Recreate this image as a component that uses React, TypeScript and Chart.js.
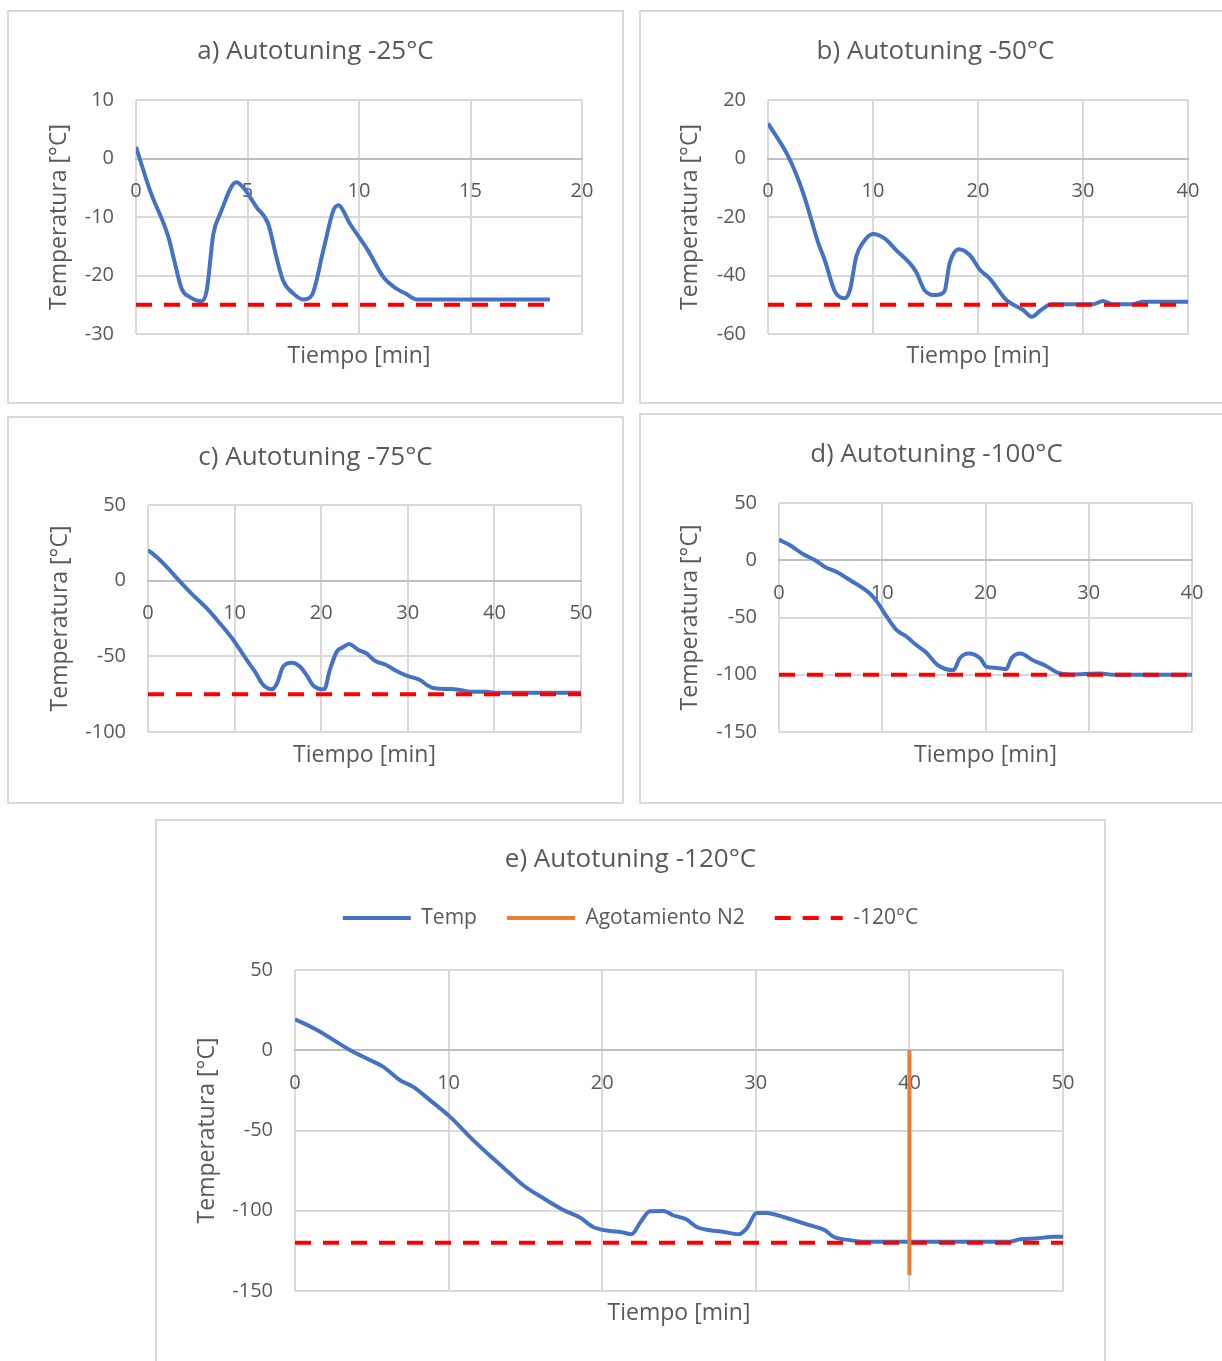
import React, { useEffect, useRef } from "react";
import { Chart, registerables } from "chart.js";

Chart.register(...registerables);

// ---------------- data ----------------
// a) Autotuning -25°C
const timeA = [0, 0.63, 1.45, 1.75, 2.05, 2.42, 2.94, 3.17, 3.47, 3.77, 4.5, 4.8, 5.4, 5.93, 6.3, 6.6, 7.06, 7.5, 7.88, 8.4, 8.85, 9.07, 9.6, 10.4, 11.1, 11.7, 12.1, 12.6, 18.56];
const tempA = [2, -5.5, -13.4, -18, -22.3, -23.7, -24.4, -22.6, -12.9, -9.5, -4.05, -4.9, -8.3, -11.2, -16.9, -20.9, -23.1, -24.1, -23.4, -15.7, -8.9, -8.0, -11.2, -15.7, -20.3, -22.3, -23.1, -24.1, -24.1];
const setTimeA = [0, 18.5];
const setTempA = [-25, -25];

// b) Autotuning -50°C
const timeB = [0, 1.94, 3.36, 4.8, 5.4, 6.38, 7.3, 7.8, 8.4, 9.0, 9.98, 11.1, 12.2, 13.5, 14.1, 14.9, 16.0, 16.8, 17.3, 18.2, 19.2, 20.2, 21.1, 22.7, 24.3, 25.1, 26.0, 27.0, 31.0, 31.9, 32.8, 34.8, 35.7, 40];
const tempB = [12, 0.6, -11.9, -29, -34.7, -45.5, -47.8, -45, -33.6, -29, -25.8, -27.3, -31.3, -35.8, -38.7, -45, -46.7, -45.5, -35.8, -31, -33, -38.1, -41, -48.4, -51.8, -54.1, -51.8, -49.8, -49.8, -48.7, -49.8, -49.8, -49, -49];
const setTimeB = [0, 40];
const setTempB = [-50, -50];

// c) Autotuning -75°C
const timeC = [0, 1.16, 2.5, 3.7, 5.2, 6.8, 8.3, 9.85, 11.4, 12.35, 13.3, 14.3, 14.9, 15.6, 16.6, 17.55, 18.3, 19.1, 20.35, 21.0, 21.8, 22.5, 23.2, 24.3, 25.2, 26.2, 27.5, 28.7, 29.85, 31.4, 32.2, 33.1, 35.0, 36.0, 37.2, 39.1, 39.9, 50];
const tempC = [20.3, 14.8, 7, -0.6, -9.5, -18.3, -28.2, -39.2, -52.4, -60.1, -68.9, -71.8, -67.8, -56.8, -54.2, -56.8, -62.3, -69.4, -71.8, -59, -46.9, -44, -41.8, -45.8, -48, -52.9, -55.7, -59.7, -62.8, -65.6, -68.9, -71.1, -71.6, -72.2, -73.4, -73.4, -74, -74];
const setTimeC = [0, 50];
const setTempC = [-75, -75];

// d) Autotuning -100°C
const timeD = [0, 1.07, 2.35, 3.5, 4.45, 5.6, 6.9, 8.8, 9.5, 10.45, 11.4, 12.4, 13.2, 14.2, 15.4, 16.9, 17.5, 18.35, 19.5, 20.1, 21.1, 22.0, 22.5, 23.35, 24.6, 25.9, 27.05, 28.2, 31.1, 32.4, 40];
const tempD = [18, 13.1, 5.2, 0, -5.8, -10.2, -17.5, -29.1, -36.4, -49.5, -61.1, -67, -73.4, -80.1, -91.7, -96, -85.8, -81.5, -85.8, -93.1, -94, -95.2, -85.8, -81.5, -87.3, -92.5, -98.4, -99.7, -98.9, -100, -100];
const setTimeD = [0, 40];
const setTempD = [-100, -100];

// e) Autotuning -120°C
const timeE = [0, 1.4, 3.6, 4.9, 5.75, 6.84, 7.7, 8.8, 10.1, 11.6, 12.9, 14.0, 14.86, 16.2, 17.5, 18.55, 19.4, 20.5, 21.2, 21.9, 22.5, 23.1, 24.0, 24.6, 25.5, 26.15, 27.0, 27.9, 28.86, 29.4, 30.06, 30.7, 31.8, 32.65, 33.5, 34.5, 35.05, 36.1, 37.2, 46.55, 47.2, 48.3, 49.4, 50];
const tempE = [19.3, 12.8, 0, -6.2, -10.4, -18.7, -22.8, -31.2, -41.5, -56, -67.5, -76.8, -84.1, -92.4, -99.7, -104.2, -110.1, -112.6, -113.2, -114.6, -107, -100.3, -100.1, -102.8, -105.5, -110.1, -112.1, -113.2, -114.6, -111.1, -101.4, -101.4, -103.9, -106.4, -109, -112.1, -116.2, -118.3, -119.3, -119.3, -117.8, -117.2, -116.2, -116.2];
const agotTimeE = [40, 40];
const agotTempE = [0, -140];
const setTimeE = [0, 50];
const setTempE = [-120, -120];

// ---------------- styles ----------------
const FONT = "'Open Sans', 'DejaVu Sans', sans-serif";
const TEXT = "#595959";
const GRID = "#d9d9d9";
const AXIS = "#bfbfbf";
const BLUE = "#4472C4";
const RED = "#FF0000";
const ORANGE = "#ED7D31";
const BORDER = 2;
const TITLE_SIZE = 26;
const TITLE_SHIFT = 2;
const TICK_SIZE = 20;
const AXIS_TITLE_SIZE = 23;
const LEGEND_SIZE = 21;
const LEGEND_GAP = 30;
const LEGEND_LINE = 68;
const LH = 1.2;
const DASH = [16, 12];

type Series = { label: string; xs: number[]; ys: number[]; color: string; dash?: number[]; smooth?: boolean; order: number };
type Spec = {
  title: string;
  box: number[];
  plot: number[];
  titleY: number;
  xTitleY: number;
  yTitleX: number;
  legendY?: number;
  x: [number, number, number];
  y: [number, number, number];
  series: Series[];
};

const temp = (xs: number[], ys: number[]): Series => ({ label: "Temp", xs, ys, color: BLUE, smooth: true, order: 2 });
const setp = (xs: number[], ys: number[], label: string): Series => ({ label, xs, ys, color: RED, dash: DASH, order: 1 });

const SPECS: Spec[] = [
  { title: "a) Autotuning -25°C", box: [7, 10, 624, 404], plot: [136, 100, 582, 334], titleY: 50, xTitleY: 355, yTitleX: 59, x: [0, 20, 5], y: [-30, 10, 10], series: [temp(timeA, tempA), setp(setTimeA, setTempA, "-25°C")] },
  { title: "b) Autotuning -50°C", box: [639, 10, 1232, 404], plot: [768, 100, 1188, 334], titleY: 50, xTitleY: 355, yTitleX: 690, x: [0, 40, 10], y: [-60, 20, 20], series: [temp(timeB, tempB), setp(setTimeB, setTempB, "-50°C")] },
  { title: "c) Autotuning -75°C", box: [7, 416, 624, 804], plot: [148, 505, 581, 732], titleY: 456, xTitleY: 754, yTitleX: 60, x: [0, 50, 10], y: [-100, 50, 50], series: [temp(timeC, tempC), setp(setTimeC, setTempC, "-75°C")] },
  { title: "d) Autotuning -100°C", box: [639, 413, 1234, 804], plot: [779, 503, 1192, 732], titleY: 453, xTitleY: 754, yTitleX: 690, x: [0, 40, 10], y: [-150, 50, 50], series: [temp(timeD, tempD), setp(setTimeD, setTempD, "-100°C")] },
  {
    title: "e) Autotuning -120°C", box: [155, 819, 1106, 1370], plot: [295, 970, 1063, 1291], titleY: 858, legendY: 917, xTitleY: 1312, yTitleX: 207, x: [0, 50, 10], y: [-150, 50, 50],
    series: [temp(timeE, tempE), { label: "Agotamiento N2", xs: agotTimeE, ys: agotTempE, color: ORANGE, order: 0 }, setp(setTimeE, setTempE, "-120°C")],
  },
];

Chart.defaults.font.family = FONT;

function Panel({ spec }: { spec: Spec }) {
  const ref = useRef<HTMLCanvasElement>(null);
  const [bl, bt, br, bb] = spec.box;
  const W = br - bl - 2 * BORDER;
  const H = bb - bt - 2 * BORDER;

  useEffect(() => {
    const canvas = ref.current;
    if (!canvas) return;
    const ox = bl + BORDER;
    const oy = bt + BORDER;
    const [PL, PT, PR, PB] = spec.plot;
    const pl = PL - ox, pt = PT - oy, pr = PR - ox, pb = PB - oy;
    const tLH = TITLE_SIZE * LH;
    const tPadTop = spec.titleY + TITLE_SHIFT - oy - tLH / 2;
    let tPadBottom = pt - tPadTop - tLH;
    let legendH = 0;
    const hasLegend = spec.legendY != null;
    if (hasLegend) {
      const legendTop = (spec.legendY as number) + 1 - oy - LEGEND_GAP - LEGEND_SIZE / 2;
      tPadBottom = Math.max(0, legendTop - tPadTop - tLH);
      legendH = pt - (tPadTop + tLH + tPadBottom);
    }
    const aLH = AXIS_TITLE_SIZE * LH;
    const sPadTop = spec.xTitleY + 1 - oy - pb - aLH / 2;
    const sPadBottom = H - pb - aLH - sPadTop;
    const yPadTop = spec.yTitleX - ox - aLH / 2;
    const padRight = W - pr;

    const datasets = spec.series.map((s) => ({
      label: s.label,
      data: s.xs.map((x, i) => ({ x, y: s.ys[i] })),
      borderColor: s.color,
      backgroundColor: s.color,
      borderWidth: 4,
      borderDash: s.dash || [],
      pointRadius: 0,
      pointHoverRadius: 0,
      fill: false,
      tension: 0,
      cubicInterpolationMode: s.smooth ? "monotone" : "default",
      order: s.order,
    }));

    const legendFix = {
      id: "legendFix",
      beforeLayout(chart: any) {
        const lg = chart.legend;
        if (lg && !lg.__fixed) {
          const orig = lg.fit;
          lg.fit = function () {
            orig.call(this);
            this.height = legendH;
          };
          lg.__fixed = true;
        }
      },
    };

    const chart = new Chart(canvas, {
      type: "line",
      data: { datasets: datasets as any },
      plugins: hasLegend ? [legendFix] : [],
      options: {
        responsive: false,
        maintainAspectRatio: false,
        animation: false,
        devicePixelRatio: 1,
        layout: { padding: 0 },
        plugins: {
          tooltip: { enabled: false },
          legend: hasLegend
            ? {
                display: true,
                position: "top",
                align: "center",
                labels: {
                  usePointStyle: true,
                  pointStyle: "line",
                  pointStyleWidth: LEGEND_LINE,
                  padding: LEGEND_GAP,
                  color: TEXT,
                  font: { family: FONT, size: LEGEND_SIZE },
                  generateLabels: (ch: any) => {
                    const items = (Chart.defaults.plugins.legend.labels as any).generateLabels(ch);
                    items.forEach((it: any) => {
                      const ds = ch.data.datasets[it.datasetIndex];
                      it.lineWidth = ds.borderWidth;
                      it.lineDash = ds.borderDash || [];
                      it.strokeStyle = ds.borderColor;
                      it.fillStyle = ds.borderColor;
                      it.pointStyle = "line";
                      it.lineCap = "butt";
                    });
                    return items;
                  },
                  sort: (a: any, b: any) => a.datasetIndex - b.datasetIndex,
                },
              }
            : { display: false },
          title: {
            display: true,
            text: spec.title,
            color: TEXT,
            font: { family: FONT, size: TITLE_SIZE, weight: "normal", lineHeight: LH },
            padding: { top: tPadTop, bottom: tPadBottom },
          },
          subtitle: {
            display: true,
            position: "bottom",
            fullSize: false,
            text: "Tiempo [min]",
            color: TEXT,
            font: { family: FONT, size: AXIS_TITLE_SIZE, weight: "normal", lineHeight: LH },
            padding: { top: sPadTop, bottom: sPadBottom },
          },
        },
        scales: {
          x: {
            type: "linear",
            position: { y: 0 } as any,
            min: spec.x[0],
            max: spec.x[1],
            ticks: { stepSize: spec.x[2], padding: 21, color: TEXT, font: { family: FONT, size: TICK_SIZE }, maxRotation: 0 },
            grid: { color: GRID, lineWidth: 2, drawTicks: false },
            border: { display: true, color: AXIS, width: 2 },
            afterFit: (s: any) => {
              s.paddingRight = padRight;
            },
          } as any,
          y: {
            type: "linear",
            position: "left",
            min: spec.y[0],
            max: spec.y[1],
            ticks: { stepSize: spec.y[2], padding: 22, color: TEXT, font: { family: FONT, size: TICK_SIZE } },
            grid: {
              color: (c: any) => (c.tick && c.tick.value === 0 ? AXIS : GRID),
              lineWidth: 2,
              drawTicks: false,
            },
            border: { display: false },
            title: {
              display: true,
              text: "Temperatura [°C]",
              color: TEXT,
              font: { family: FONT, size: AXIS_TITLE_SIZE, weight: "normal", lineHeight: LH },
              padding: { top: yPadTop, bottom: 0 },
            },
            afterFit: (s: any) => {
              s.width = pl;
            },
          } as any,
        },
      } as any,
    });
    return () => chart.destroy();
  }, [spec]);

  return (
    <div
      style={{
        position: "absolute",
        left: bl,
        top: bt,
        width: br - bl,
        height: bb - bt,
        border: `${BORDER}px solid ${GRID}`,
        boxSizing: "border-box",
        background: "#fff",
      }}
    >
      <canvas ref={ref} width={W} height={H} style={{ display: "block", width: W, height: H }} />
    </div>
  );
}

export default function App() {
  return (
    <div style={{ position: "absolute", left: 0, top: 0, width: 1222, height: 1361, overflow: "hidden", background: "#fff" }}>
      {SPECS.map((s) => (
        <Panel key={s.title} spec={s} />
      ))}
    </div>
  );
}
